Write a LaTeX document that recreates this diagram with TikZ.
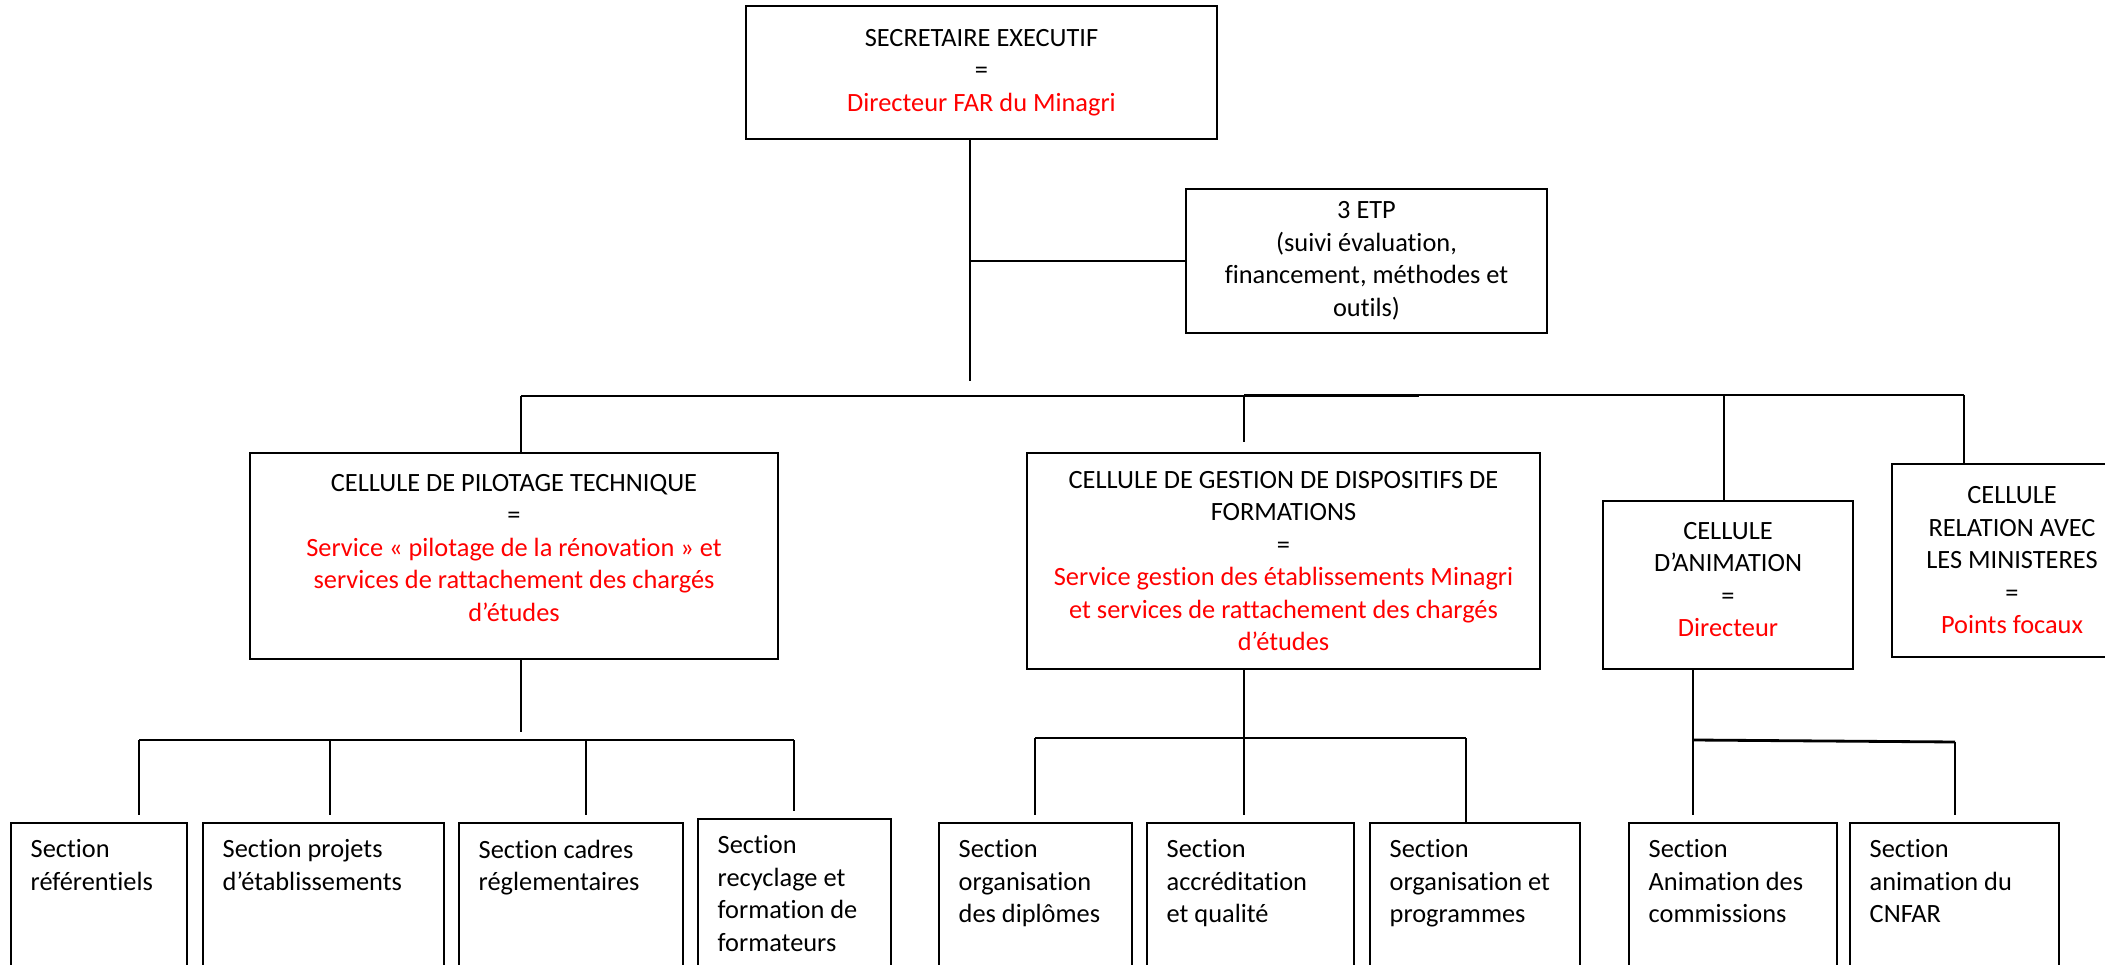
\documentclass[tikz,border=0pt]{standalone}
\usepackage{fontspec}
\setmainfont{Carlito}[Ligatures=NoCommon]
\usetikzlibrary{positioning}
\definecolor{rougetexte}{RGB}{255,0,0}
\newcommand{\rge}[1]{\textcolor{rougetexte}{#1}}
\tikzset{
	cadre/.style={draw, line width=0.5pt, inner sep=0pt, align=center},
	texte/.style={inner sep=0pt, align=center},
	section/.style={draw, line width=0.5pt, anchor=north west, minimum height=1.52cm},
	libelle/.style={inner sep=0pt, align=left},
	lien/.style={line width=0.55pt},
	barre/.style={line width=0.8pt}
}

\begin{document}
\begin{tikzpicture}
		\tikzstyle{every node}=[font=\fontsize{7.5pt}{9.25pt}\selectfont]
		\path[fill=white] (0,0) rectangle (21.05,9.64);
		\useasboundingbox (0,0) rectangle (21.05,9.64);
		\clip (0,0) rectangle (21.05,9.64);
		
		\node[cadre, minimum width=4.71cm, minimum height=1.33cm] (sec) at (9.815,8.915) {SECRETAIRE EXECUTIF\\=\\\rge{Directeur FAR du Minagri}};
		\node[cadre, minimum width=3.61cm, minimum height=1.44cm] (etp) at (13.665,7.03) {3 ETP\\(suivi évaluation,\\financement, méthodes et\\outils)};
		
		\node[cadre, minimum width=5.28cm, minimum height=2.06cm] (pil) at (5.14,4.08) {};
		\node[texte] (pilT) at ([yshift=0.08cm]pil.center) {CELLULE DE PILOTAGE TECHNIQUE\\=\\\rge{Service « pilotage de la rénovation » et}\\\rge{services de rattachement des chargés}\\\rge{d’études}};
		\node[cadre, minimum width=5.13cm, minimum height=2.16cm] (ges) at (12.835,4.03) {CELLULE DE GESTION DE DISPOSITIFS DE\\FORMATIONS\\=\\\rge{Service gestion des établissements Minagri}\\\rge{et services de rattachement des chargés}\\\rge{d’études}};
		\node[cadre, minimum width=2.50cm, minimum height=1.68cm] (ani) at (17.28,3.79) {};
		\node[texte] (aniT) at ([yshift=0.055cm]ani.center) {CELLULE\\D’ANIMATION\\=\\\rge{Directeur}};
		\node[cadre, minimum width=2.40cm, minimum height=1.93cm] (rel) at (20.12,4.035) {CELLULE\\RELATION AVEC\\LES MINISTERES\\=\\\rge{Points focaux}};
		
		\node[section, minimum width=1.76cm] (s1) at (0.10,1.42) {};
		\node[section, minimum width=2.41cm] (s2) at (2.02,1.42) {};
		\node[section, minimum width=2.24cm] (s3) at (4.58,1.42) {};
		\node[section, minimum width=1.93cm] (s4) at (6.97,1.46) {};
		\node[section, minimum width=1.93cm] (s5) at (9.38,1.42) {};
		\node[section, minimum width=2.07cm] (s6) at (11.46,1.42) {};
		\node[section, minimum width=2.10cm] (s7) at (13.69,1.42) {};
		\node[section, minimum width=2.08cm] (s8) at (16.28,1.42) {};
		\node[section, minimum width=2.09cm] (s9) at (18.49,1.42) {};
		
		\node[libelle, below right=0.17cm and 0.20cm of s1.north west] (t1) {Section\\référentiels};
		\node[libelle, below right=0.17cm and 0.20cm of s2.north west] (t2) {Section projets\\d’établissements};
		\node[libelle, below right=0.17cm and 0.20cm of s3.north west] (t3) {Section cadres\\réglementaires};
		\node[libelle, below right=0.17cm and 0.20cm of s4.north west] (t4) {Section\\recyclage et\\formation de\\formateurs};
		\node[libelle, below right=0.17cm and 0.20cm of s5.north west] (t5) {Section\\organisation\\des diplômes};
		\node[libelle, below right=0.17cm and 0.20cm of s6.north west] (t6) {Section\\accréditation\\et qualité};
		\node[libelle, below right=0.17cm and 0.20cm of s7.north west] (t7) {Section\\organisation et\\programmes};
		\node[libelle, below right=0.17cm and 0.20cm of s8.north west] (t8) {Section\\Animation des\\commissions};
		\node[libelle, below right=0.17cm and 0.20cm of s9.north west] (t9) {Section\\animation du\\CNFAR};
		
		\coordinate (tronc) at (9.70,5.83);
		\draw[lien] (sec.south -| tronc) -- (tronc);
		\draw[lien] (tronc |- etp.west) -- (etp.west);
		
		\coordinate (busA) at (5.21,5.68);
		\coordinate (busB) at (12.44,5.69);
		\coordinate (busC) at (17.24,5.69);
		\coordinate (busD) at (19.64,5.69);
		\draw[barre] (busA) -- (14.19,5.68);
		\draw[lien] (busB) -- (busD);
		\draw[lien] (busA) -- (pil.north -| busA);
		\draw[lien] (busB) -- ([yshift=0.1cm]ges.north -| busB);
		\draw[lien] (busC) -- (ani.north -| busC);
		\draw[lien] (busD) -- (rel.north -| busD);
		
		\coordinate (pilB) at (5.21,2.32);
		\draw[lien] (pil.south -| pilB) -- (pilB);
		\draw[barre] (1.39,2.24) -- (7.94,2.24);
		\foreach \n/\x in {s1/1.39, s2/3.30, s3/5.86, s4/7.94}
			\draw[lien] (\x,2.24) -- ([yshift=0.07cm]\x,0 |- \n.north);
		
		\draw[lien] (ges.south -| 12.44,0) -- (12.44,2.26);
		\draw[barre] (10.35,2.26) -- (14.66,2.26);
		\foreach \n/\x in {s5/10.35, s6/12.44}
			\draw[lien] (\x,2.26) -- ([yshift=0.07cm]\x,0 |- \n.north);
		\draw[lien] (14.66,2.26) -- (14.66,0 |- s7.north);
		
		\draw[lien] (ani.south -| 16.93,0) -- (16.93,2.24);
		\draw[barre] (16.93,2.24) -- (19.55,2.22);
		\draw[lien] (16.93,2.24) -- ([yshift=0.07cm]16.93,0 |- s8.north);
		\draw[lien] (19.55,2.22) -- ([yshift=0.07cm]19.55,0 |- s9.north);
		
	\end{tikzpicture}
\end{document}
